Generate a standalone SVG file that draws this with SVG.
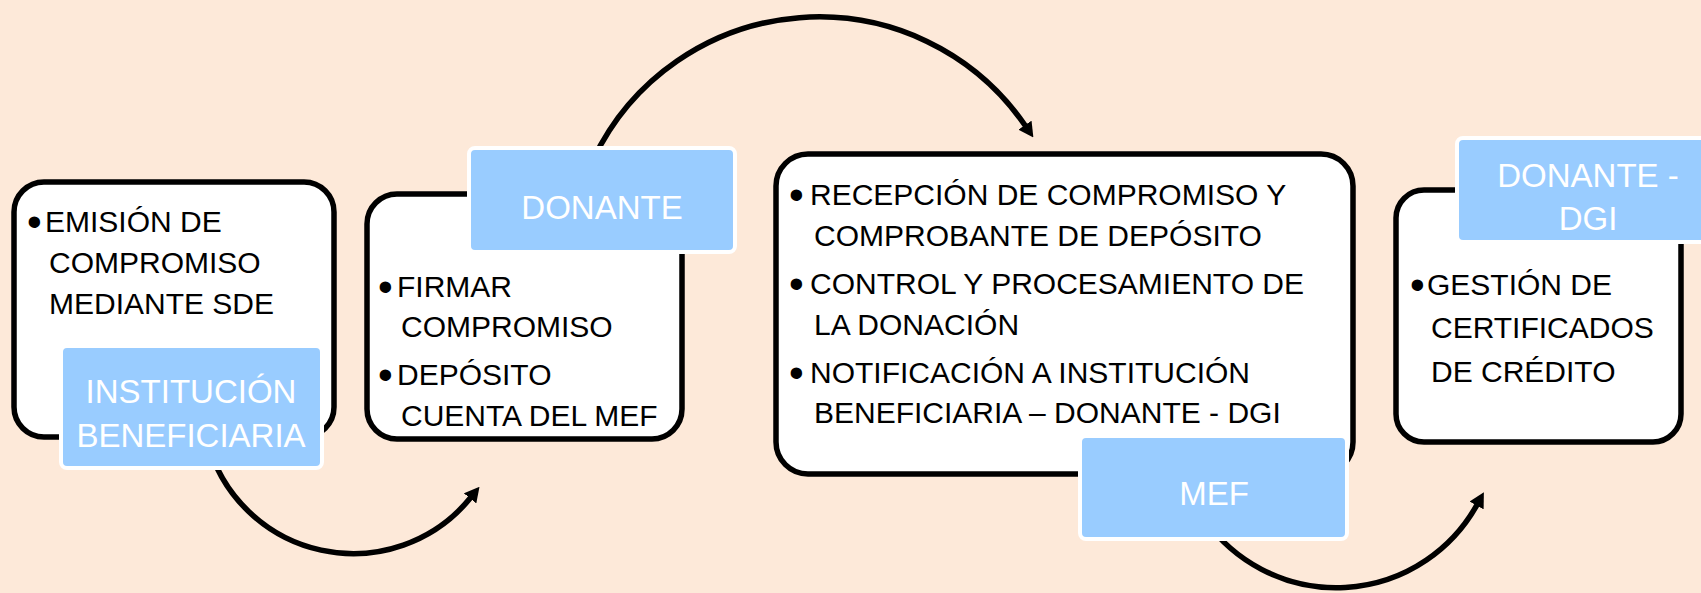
<svg xmlns="http://www.w3.org/2000/svg" width="1701" height="593" viewBox="0 0 1701 593">
<defs>
<style>
.box{fill:#ffffff;stroke:#000000;stroke-width:5.5}
.lbl{fill:#99CCFF;stroke:#ffffff;stroke-width:4}
.t{font-family:"Liberation Sans",Arial,sans-serif;font-size:30px;fill:#000000}
.b{font-family:"Liberation Sans",Arial,sans-serif;font-size:42px;fill:#000000}
.lt{font-family:"Liberation Sans",Arial,sans-serif;font-size:33px;fill:#ffffff;text-anchor:middle}
.arc{fill:none;stroke:#000000;stroke-width:5.5;marker-end:url(#ah)}
</style>
<marker id="ah" markerUnits="userSpaceOnUse" markerWidth="15" markerHeight="16" viewBox="0 0 15 16" refX="1" refY="8" orient="auto">
<path d="M0,0 L15,8 L0,16 z" fill="#000000"/>
</marker>
</defs>
<rect x="0" y="0" width="1701" height="593" fill="#FDE9D9"/>
<g id="connectors">
<path class="arc" d="M207,440 A151,151 0 0 0 470.7,497.6"/>
<path class="arc" d="M593,160 A250,250 0 0 1 1025.5,126"/>
<path class="arc" d="M1205,520 A161,161 0 0 0 1477.1,504.6"/>
</g>
<g id="node-institucion">
<rect class="box" x="14" y="182" width="320" height="255" rx="30"/>
<text class="b" x="27" y="236">•</text>
<text class="t" x="45" y="232">EMISIÓN DE</text>
<text class="t" x="49" y="273">COMPROMISO</text>
<text class="t" x="49" y="314">MEDIANTE SDE</text>
<rect class="lbl" x="61" y="346" width="261" height="122" rx="6"/>
<text class="lt" x="191" y="403">INSTITUCIÓN</text>
<text class="lt" x="191" y="447">BENEFICIARIA</text>
</g>
<g id="node-donante">
<rect class="box" x="367" y="194" width="315" height="245" rx="30"/>
<text class="b" x="378" y="301">•</text>
<text class="t" x="397" y="297">FIRMAR</text>
<text class="t" x="401" y="337">COMPROMISO</text>
<text class="b" x="378" y="389">•</text>
<text class="t" x="397" y="385">DEPÓSITO</text>
<text class="t" x="401" y="426">CUENTA DEL MEF</text>
<rect class="lbl" x="469" y="148" width="266" height="104" rx="6"/>
<text class="lt" x="602" y="219">DONANTE</text>
</g>
<g id="node-mef">
<rect class="box" x="776" y="154" width="577" height="320" rx="32"/>
<text class="b" x="789" y="209">•</text>
<text class="t" x="810" y="205">RECEPCIÓN DE COMPROMISO Y</text>
<text class="t" x="814" y="246">COMPROBANTE DE DEPÓSITO</text>
<text class="b" x="789" y="298">•</text>
<text class="t" x="810" y="294">CONTROL Y PROCESAMIENTO DE</text>
<text class="t" x="814" y="335">LA DONACIÓN</text>
<text class="b" x="789" y="387">•</text>
<text class="t" x="810" y="383">NOTIFICACIÓN A INSTITUCIÓN</text>
<text class="t" x="814" y="423">BENEFICIARIA – DONANTE - DGI</text>
<rect class="lbl" x="1080" y="436" width="267" height="103" rx="6"/>
<text class="lt" x="1214" y="505">MEF</text>
</g>
<g id="node-donante-dgi">
<rect class="box" x="1396" y="190" width="285" height="252" rx="28"/>
<text class="b" x="1410" y="299">•</text>
<text class="t" x="1427" y="295">GESTIÓN DE</text>
<text class="t" x="1431" y="338">CERTIFICADOS</text>
<text class="t" x="1431" y="382">DE CRÉDITO</text>
<rect class="lbl" x="1457" y="138" width="300" height="104" rx="6"/>
<text class="lt" x="1588" y="187">DONANTE -</text>
<text class="lt" x="1588" y="230">DGI</text>
</g>
</svg>
